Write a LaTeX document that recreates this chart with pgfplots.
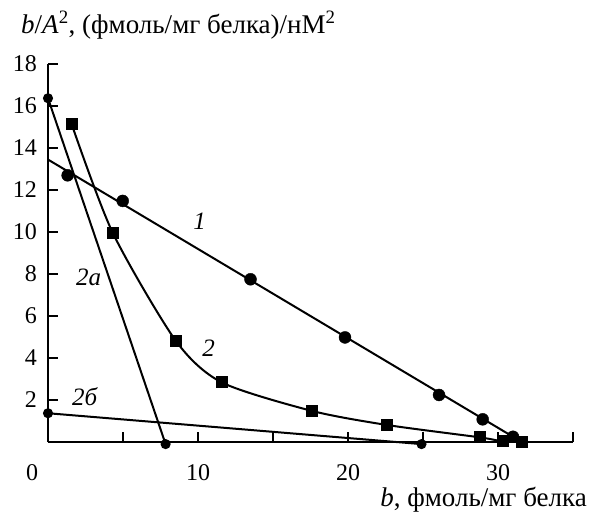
\documentclass[border=0pt]{standalone}
\usepackage{fontspec}
\setmainfont{Liberation Serif}
\usepackage{pgfplots}
\pgfplotsset{compat=1.18}
\begin{document}
\fontsize{24}{28}\selectfont
\begin{tikzpicture}[x=1pt,y=1pt]
\path[use as bounding box] (-48,-73) rectangle (541,442);
\begin{axis}[
  at={(0,0)}, anchor=south west,
  scale only axis, width=525pt, height=378pt,
  xmin=0, xmax=35, ymin=0, ymax=18,
  axis lines=left, axis line style={line width=2.2pt, -},
  clip=false,
  xtick={10,20,30}, minor xtick={0,5,15,25,35},
  ytick={2,4,...,18},
  tick align=inside, major tick length=10pt, minor tick length=10pt,
  every tick/.style={line width=2.2pt, black},
  every minor tick/.style={line width=2.2pt, black},
  /pgf/number format/assume math mode=true,
  tick label style={font=\fontsize{24}{28}\selectfont},
  xticklabel style={yshift=-14pt},
  yticklabel style={xshift=-3pt},
]
\addplot[black, line width=2pt] coordinates {(0,13.45) (31.0,0.25)};
\addplot[black, only marks, mark=*, mark size=6pt] coordinates {
 (1.31,12.7) (4.98,11.48) (13.5,7.75) (19.8,4.98) (26.07,2.24) (28.98,1.08) (31.0,0.25)};
\addplot[black, line width=2pt, smooth, tension=0.45, mark=square*, mark size=5.5pt, mark options={line width=0pt}] coordinates {
 (1.58,15.13) (4.31,9.97) (8.51,4.83) (11.58,2.84) (17.6,1.48) (22.6,0.81) (28.8,0.22) (30.3,0.03) (31.6,0.0)};
\addplot[black, line width=2pt, mark=*, mark size=4pt] coordinates {(0,16.37) (7.84,-0.1)};
\addplot[black, line width=2pt, mark=*, mark size=4pt] coordinates {(0,1.37) (24.9,-0.1)};
\begin{scope}[font=\fontsize{25}{29}\selectfont]
\node at (axis cs:10.1,10.5) {\textit{1}};
\node at (axis cs:2.7,7.84) {\textit{2a}};
\node at (axis cs:10.7,4.46) {\textit{2}};
\node at (axis cs:2.47,2.16) {\textit{2б}};
\end{scope}
\node[anchor=base, font=\fontsize{24}{28}\selectfont] at (rel axis cs:0,0) [xshift=-16pt,yshift=-38pt] {0};
\node[anchor=base west, font=\fontsize{27}{32}\selectfont] at (rel axis cs:0,1) [xshift=-35pt,yshift=31pt] {\textit{b}/\textit{A}\textsuperscript{2}, (фмоль/мг белка)/нМ\textsuperscript{2}};
\node[anchor=base east, font=\fontsize{27}{32}\selectfont, inner sep=1pt] at (rel axis cs:1,0) [xshift=15pt,yshift=-64pt] {\textit{b}, фмоль/мг белка};
\end{axis}
\end{tikzpicture}
\end{document}
